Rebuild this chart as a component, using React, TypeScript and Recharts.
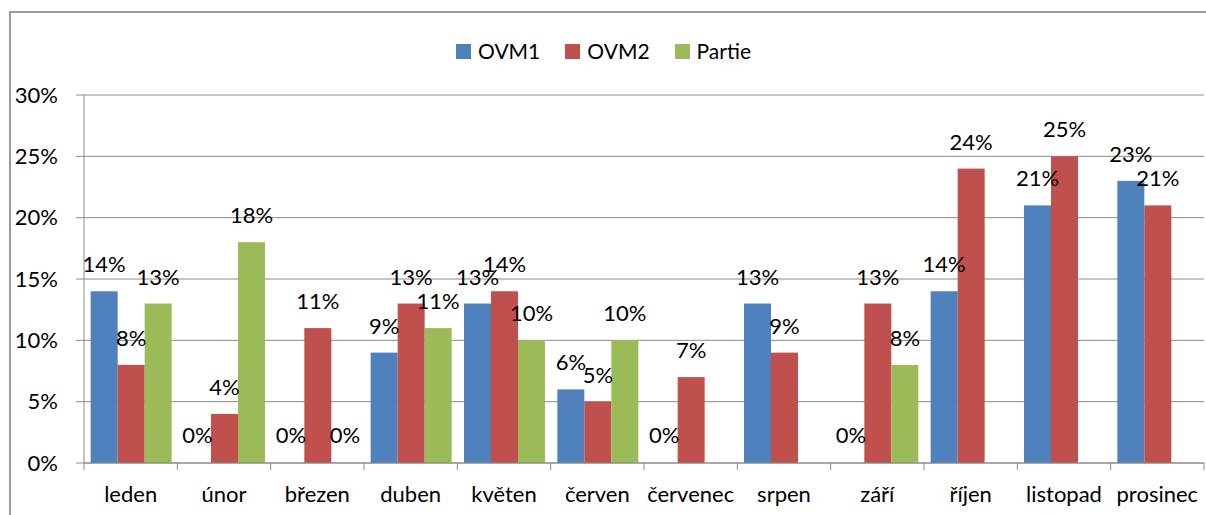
import {
  BarChart,
  Bar,
  XAxis,
  YAxis,
  CartesianGrid,
  Legend,
  LabelList,
} from 'recharts';

const months = [
  'leden', 'únor', 'březen', 'duben', 'květen', 'červen',
  'červenec', 'srpen', 'září', 'říjen', 'listopad', 'prosinec',
];
const ovm1 = [14, 0, 0, 9, 13, 6, 0, 13, 0, 14, 21, 23];
const ovm2 = [8, 4, 11, 13, 14, 5, 7, 9, 13, 24, 25, 21];
const partie = [13, 18, 0, 11, 10, 10, null, null, 8, null, null, null];
const yTicks = [0, 5, 10, 15, 20, 25, 30];

const series = [
  { key: 'ovm1', name: 'OVM1', color: '#4F81BD' },
  { key: 'ovm2', name: 'OVM2', color: '#C0504D' },
  { key: 'partie', name: 'Partie', color: '#9BBB59' },
];

const data = months.map((m, i) => ({
  month: m,
  ovm1: ovm1[i],
  ovm2: ovm2[i],
  partie: partie[i],
}));

const W = 1206;
const H = 515;
const PLOT_LEFT = 84;
const PLOT_RIGHT = 1204;
const BAND = (PLOT_RIGHT - PLOT_LEFT) / months.length;
const FONT = 'Lato, "Noto Sans", sans-serif';
const AXIS = '#8a8a8a';

function MonthTick(props: any) {
  const { x, y, payload, index } = props;
  const left = x - BAND / 2;
  return (
    <g>
      <line x1={left} x2={left} y1={y} y2={y + 7} stroke={AXIS} />
      {index === months.length - 1 && (
        <line x1={x + BAND / 2} x2={x + BAND / 2} y1={y} y2={y + 7} stroke={AXIS} />
      )}
      <text x={x} y={y + 39} textAnchor="middle" fill="#000" fontSize={22} fontFamily={FONT}>
        {payload.value}
      </text>
    </g>
  );
}

// label above the bar; zero bars get a 1px stub so a label is still produced
function ValueLabel(props: any) {
  const { x, y, width, height, value } = props;
  if (value == null || x == null) return null;
  const top = Math.min(Number(y), Number(y) + Number(height || 0));
  return (
    <text
      x={Number(x) + Number(width) / 2}
      y={top - 19}
      textAnchor="middle"
      fill="#000"
      fontSize={22}
      fontFamily={FONT}
    >
      {`${value}%`}
    </text>
  );
}

function makeShape(key: string, color: string) {
  return (p: any) => {
    if (p.payload?.[key] === 0) return <g />;
    return <rect x={p.x} y={p.y} width={p.width} height={p.height} fill={color} />;
  };
}

function LegendBox() {
  return (
    <div style={{ display: 'flex', justifyContent: 'center', alignItems: 'center', gap: 25, fontFamily: FONT, fontSize: 21, color: '#000' }}>
      {series.map((s) => (
        <div key={s.key} style={{ display: 'flex', alignItems: 'center' }}>
          <span style={{ width: 15, height: 15, background: s.color, marginRight: 7, display: 'inline-block' }} />
          <span style={{ lineHeight: '28px' }}>{s.name}</span>
        </div>
      ))}
    </div>
  );
}

export default function App() {
  return (
    <div style={{ position: 'absolute', left: 0, top: 0, width: W, height: H, overflow: 'hidden', background: '#fff' }}>
      <div
        style={{
          position: 'absolute',
          left: 9,
          top: 11,
          width: W + 20,
          height: H + 20,
          border: '2px solid #9a9a9a',
          boxSizing: 'border-box',
        }}
      />
      <BarChart
        width={W}
        height={H}
        data={data}
        margin={{ top: 95, right: W - PLOT_RIGHT, bottom: 0, left: 0 }}
        barCategoryGap="7.14%"
        barGap={0}
        style={{ fontFamily: FONT }}
      >
        <CartesianGrid horizontal vertical={false} stroke={AXIS} strokeDasharray="" />
        <XAxis
          dataKey="month"
          height={52}
          axisLine={{ stroke: AXIS }}
          tickLine={false}
          tickSize={0}
          tickMargin={0}
          interval={0}
          tick={<MonthTick />}
        />
        <YAxis
          width={PLOT_LEFT}
          domain={[0, 30]}
          ticks={yTicks}
          interval={0}
          tickFormatter={(v: number) => `${v}%`}
          axisLine={{ stroke: AXIS }}
          tickLine={{ stroke: AXIS }}
          tickSize={8}
          tickMargin={18}
          tick={{ fill: '#000', fontSize: 22, fontFamily: FONT }}
        />
        <Legend
          verticalAlign="middle"
          layout="horizontal"
          content={<LegendBox />}
          wrapperStyle={{ top: 37, left: 9, width: W - 9 - 8 }}
        />
        {series.map((s) => (
          <Bar
            key={s.key}
            dataKey={s.key}
            name={s.name}
            fill={s.color}
            isAnimationActive={false}
            minPointSize={(v: any) => (v === 0 ? 1 : 0)}
            shape={makeShape(s.key, s.color)}
          >
            <LabelList dataKey={s.key} content={<ValueLabel />} />
          </Bar>
        ))}
      </BarChart>
    </div>
  );
}
